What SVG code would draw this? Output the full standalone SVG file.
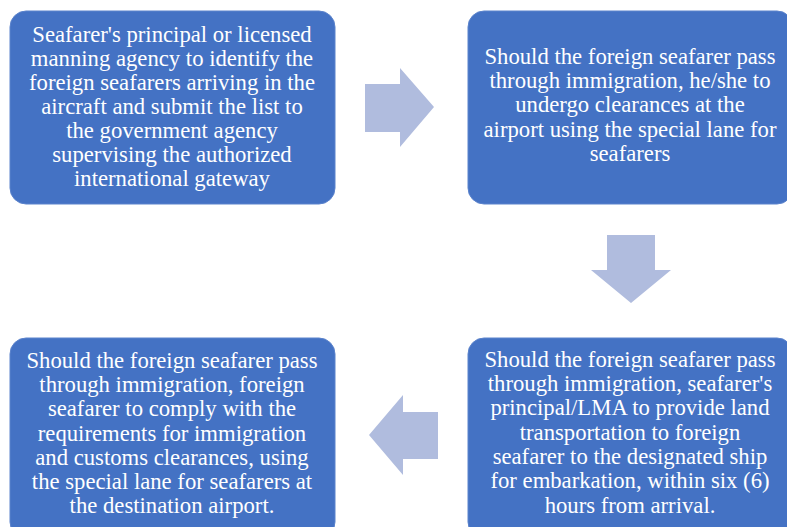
<svg xmlns="http://www.w3.org/2000/svg" width="787" height="527" viewBox="0 0 787 527">
<style>
.box{fill:#4472C4;stroke:#5B83CC;stroke-width:1}
.arrow{fill:#B0BCDE}
.t{font-family:"Liberation Serif","Times New Roman",serif;font-size:22.7px;fill:#FFFFFF;text-anchor:middle}
</style>
<rect width="787" height="527" fill="#FFFFFF"/>
<g id="node1">
<rect class="box" x="10" y="11" width="325" height="193" rx="16"/>
<text class="t"><tspan x="172" y="42">Seafarer's principal or licensed</tspan><tspan x="172" y="66">manning agency to identify the</tspan><tspan x="172" y="90">foreign seafarers arriving in the</tspan><tspan x="172" y="114">aircraft and submit the list to</tspan><tspan x="172" y="138">the government agency</tspan><tspan x="172" y="162">supervising the authorized</tspan><tspan x="172" y="186">international gateway</tspan></text>
</g>
<g id="node2">
<rect class="box" x="468" y="11" width="325" height="193" rx="16"/>
<text class="t"><tspan x="630" y="64">Should the foreign seafarer pass</tspan><tspan x="630" y="88">through immigration, he/she to</tspan><tspan x="630" y="112">undergo clearances at the</tspan><tspan x="630" y="137">airport using the special lane for</tspan><tspan x="630" y="161">seafarers</tspan></text>
</g>
<g id="node3">
<rect class="box" x="468" y="338" width="325" height="200" rx="16"/>
<text class="t"><tspan x="630" y="367">Should the foreign seafarer pass</tspan><tspan x="630" y="391">through immigration, seafarer's</tspan><tspan x="630" y="415">principal/LMA to provide land</tspan><tspan x="630" y="440">transportation to foreign</tspan><tspan x="630" y="464">seafarer to the designated ship</tspan><tspan x="630" y="488">for embarkation, within six (6)</tspan><tspan x="630" y="513">hours from arrival.</tspan></text>
</g>
<g id="node4">
<rect class="box" x="10" y="338" width="325" height="200" rx="16"/>
<text class="t"><tspan x="172" y="368">Should the foreign seafarer pass</tspan><tspan x="172" y="392">through immigration, foreign</tspan><tspan x="172" y="416">seafarer to comply with the</tspan><tspan x="172" y="441">requirements for immigration</tspan><tspan x="172" y="465">and customs clearances, using</tspan><tspan x="172" y="489">the special lane for seafarers at</tspan><tspan x="172" y="513">the destination airport.</tspan></text>
</g>
<g id="connectors">
<polygon class="arrow" points="365,84 400,84 400,68 434,107 400,147 400,132 365,132"/>
<polygon class="arrow" points="607,235 655,235 655,270 671,270 631,303 591,270 607,270"/>
<polygon class="arrow" points="438,412 403,412 403,395 369,435 403,475 403,459 438,459"/>
</g>
</svg>
